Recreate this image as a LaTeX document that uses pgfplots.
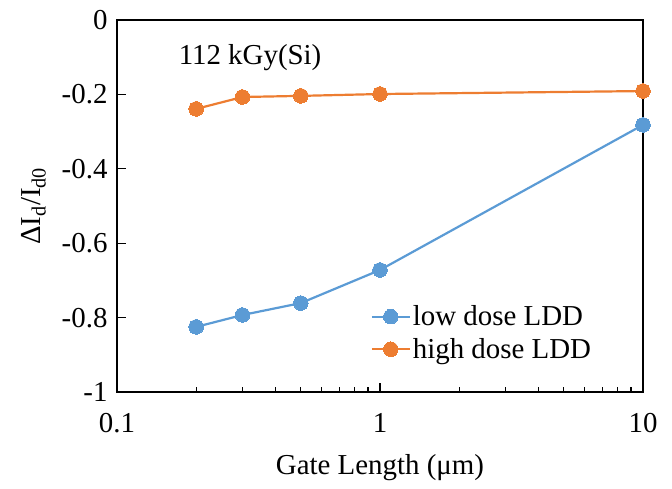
\documentclass[border=0pt]{standalone}
\usepackage{fontspec}
\setmainfont{Liberation Serif}
\usepackage{pgfplots}
\pgfplotsset{compat=1.18}
\definecolor{cblue}{HTML}{5B9BD5}
\definecolor{corange}{HTML}{ED7D31}
\begin{document}
\begin{tikzpicture}
\begin{semilogxaxis}[
  name=ax,
  scale only axis,
  width=526bp, height=372bp,
  xmin=0.1, xmax=10, ymin=-1, ymax=0,
  xtick={0.1,1,10}, xticklabels={0.1,1,10},
  ytick={-1,-0.8,-0.6,-0.4,-0.2,0},
  yticklabels={-1,-0.8,-0.6,-0.4,-0.2,0},
  xtick pos=bottom, ytick pos=left,
  tick align=inside,
  major tick length=9bp, minor tick length=5bp,
  every tick/.style={black, line width=1.2bp},
  axis line style={line width=2.5bp},
  font=\fontsize{29}{34}\selectfont,
  tick label style={font=\fontsize{29}{34}\selectfont},
  xticklabel style={yshift=-18bp},
  yticklabel style={xshift=-6bp},
  xlabel={Gate Length (μm)},
  ylabel={ΔI\textsubscript{d}/I\textsubscript{d0}},
  xlabel style={yshift=-14bp},
  ylabel style={yshift=9bp},
  legend style={at={(rel axis cs:0.48,0.24)}, anchor=north west, draw=none, fill=none,
    font=\fontsize{29}{34}\selectfont, row sep=7bp, inner sep=1bp},
  legend cell align=left,
  legend image code/.code={\draw[mark repeat=2,mark phase=2] plot coordinates {(0bp,0bp) (19bp,0bp) (38bp,0bp)};},
]
\addplot[cblue, line width=2.2bp, mark=*, mark size=7.3bp, mark options={fill=cblue, draw=cblue, line width=0pt}]
  coordinates {(0.2,-0.825) (0.3,-0.793) (0.5,-0.761) (1,-0.672) (10,-0.282)};
\addlegendentry{low dose LDD}
\addplot[corange, line width=2.2bp, mark=*, mark size=7.3bp, mark options={fill=corange, draw=corange, line width=0pt}]
  coordinates {(0.2,-0.239) (0.3,-0.207) (0.5,-0.204) (1,-0.199) (10,-0.191)};
\addlegendentry{high dose LDD}
\node[anchor=center] at (rel axis cs:0.253,0.90) {\fontsize{29}{34}\selectfont 112 kGy(Si)};
\end{semilogxaxis}
\pgfresetboundingbox
\path[use as bounding box] ([xshift=-117bp,yshift=-97bp]ax.south west) rectangle ([xshift=29bp,yshift=20bp]ax.north east);
\end{tikzpicture}
\end{document}
